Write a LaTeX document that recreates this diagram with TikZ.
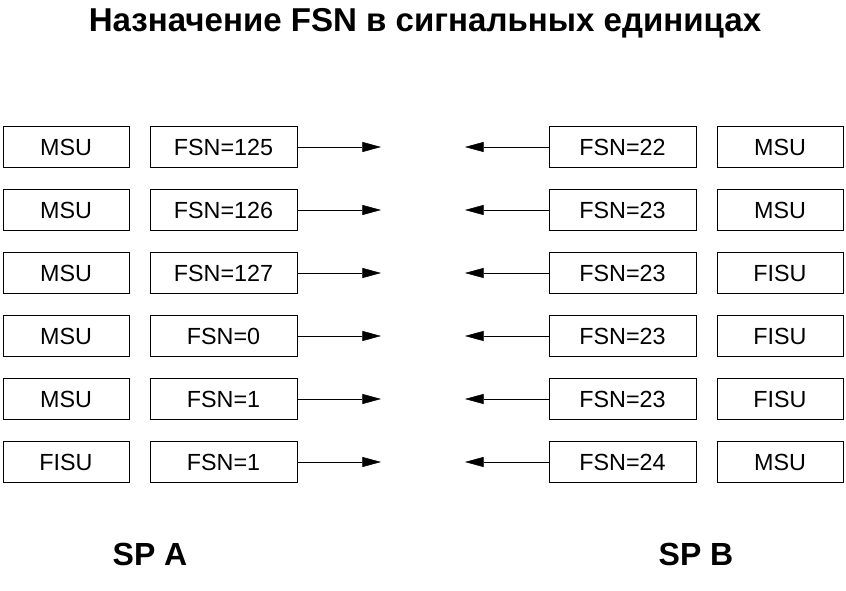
\documentclass[tikz,border=0pt]{standalone}
\usepackage{fontspec}
\setmainfont{Liberation Sans}
\usetikzlibrary{arrows.meta}
\begin{document}
\begin{tikzpicture}[x=0.75pt,y=-0.75pt]
            \tikzstyle{every picture}=[line width=0.75pt]
            \tikzstyle{every node}=[font=\fontsize{17.5}{20}\selectfont]
            \tikzstyle{unit}=[draw,minimum width=94.5pt,minimum height=30.75pt,inner sep=0pt]
            \tikzstyle{fsn}=[draw,minimum width=110.25pt,minimum height=30.75pt,inner sep=0pt]
            \tikzstyle{link}=[-{Triangle[length=14pt,width=7.5pt]}]
            \useasboundingbox (0,0) rectangle (846,591);
            \draw (425,32) node[anchor=base,font=\bfseries\fontsize{24.8}{28}\selectfont] (title) {Назначение FSN в сигнальных единицах};
            % SP A
            \draw (66,147) node[unit] (ua1) {MSU};
            \draw (66,210) node[unit] (ua2) {MSU};
            \draw (66,273) node[unit] (ua3) {MSU};
            \draw (66,336) node[unit] (ua4) {MSU};
            \draw (66,399) node[unit] (ua5) {MSU};
            \draw (66,462) node[unit] (ua6) {FISU};
            \draw (223.5,147) node[fsn] (fa1) {FSN=125};
            \draw (223.5,210) node[fsn] (fa2) {FSN=126};
            \draw (223.5,273) node[fsn] (fa3) {FSN=127};
            \draw (223.5,336) node[fsn] (fa4) {FSN=0};
            \draw (223.5,399) node[fsn] (fa5) {FSN=1};
            \draw (223.5,462) node[fsn] (fa6) {FSN=1};
            % SP B
            \draw (622.5,147) node[fsn] (fb1) {FSN=22};
            \draw (622.5,210) node[fsn] (fb2) {FSN=23};
            \draw (622.5,273) node[fsn] (fb3) {FSN=23};
            \draw (622.5,336) node[fsn] (fb4) {FSN=23};
            \draw (622.5,399) node[fsn] (fb5) {FSN=23};
            \draw (622.5,462) node[fsn] (fb6) {FSN=24};
            \draw (780,147) node[unit] (ub1) {MSU};
            \draw (780,210) node[unit] (ub2) {MSU};
            \draw (780,273) node[unit] (ub3) {FISU};
            \draw (780,336) node[unit] (ub4) {FISU};
            \draw (780,399) node[unit] (ub5) {FISU};
            \draw (780,462) node[unit] (ub6) {MSU};
            % arrow ends
            \coordinate (ta1) at (381,147);
            \coordinate (ta2) at (381,210);
            \coordinate (ta3) at (381,273);
            \coordinate (ta4) at (381,336);
            \coordinate (ta5) at (381,399);
            \coordinate (ta6) at (381,462);
            \coordinate (tb1) at (465,147);
            \coordinate (tb2) at (465,210);
            \coordinate (tb3) at (465,273);
            \coordinate (tb4) at (465,336);
            \coordinate (tb5) at (465,399);
            \coordinate (tb6) at (465,462);
            \draw[link] (fa1) -- (ta1);
            \draw[link] (fa2) -- (ta2);
            \draw[link] (fa3) -- (ta3);
            \draw[link] (fa4) -- (ta4);
            \draw[link] (fa5) -- (ta5);
            \draw[link] (fa6) -- (ta6);
            \draw[link] (fb1) -- (tb1);
            \draw[link] (fb2) -- (tb2);
            \draw[link] (fb3) -- (tb3);
            \draw[link] (fb4) -- (tb4);
            \draw[link] (fb5) -- (tb5);
            \draw[link] (fb6) -- (tb6);
            \draw (150,554) node[font=\bfseries\fontsize{24}{28}\selectfont] (spa) {SP A};
            \draw (696,554) node[font=\bfseries\fontsize{24}{28}\selectfont] (spb) {SP B};
        \end{tikzpicture}
\end{document}
